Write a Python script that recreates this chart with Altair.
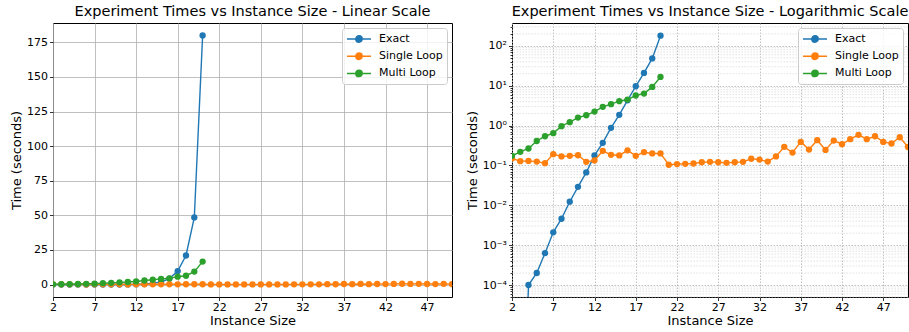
import altair as alt
import pandas as pd

# ---------------- data ----------------
series_names = ["Exact", "Single Loop", "Multi Loop"]
series_colors = ["#1f77b4", "#ff7f0e", "#2ca02c"]

exact_x = list(range(2, 21))
exact_t = [1e-10, 1e-10, 1.0e-4, 2.0e-4, 6.3e-4, 2.1e-3, 4.6e-3, 0.0123, 0.029,
           0.0667, 0.178, 0.369, 0.877, 1.86, 4.3, 9.7, 21.0, 48.5, 180.0]

single_x = list(range(2, 51))
single_t = [0.15, 0.128, 0.13, 0.125, 0.114, 0.192, 0.168, 0.174, 0.18, 0.123,
            0.133, 0.233, 0.185, 0.178, 0.24, 0.174, 0.215, 0.2, 0.2, 0.104,
            0.108, 0.11, 0.112, 0.12, 0.123, 0.12, 0.116, 0.12, 0.123, 0.147,
            0.14, 0.125, 0.168, 0.293, 0.21, 0.39, 0.25, 0.43, 0.245, 0.42,
            0.34, 0.456, 0.586, 0.456, 0.54, 0.39, 0.355, 0.51, 0.29]

multi_x = list(range(2, 21))
multi_t = [0.174, 0.22, 0.266, 0.41, 0.54, 0.645, 0.966, 1.22, 1.59, 1.82,
           2.25, 2.95, 3.44, 4.09, 4.5, 5.68, 6.37, 9.36, 16.6]

x_ticks = [2, 7, 12, 17, 22, 27, 32, 37, 42, 47]
lin_ticks = [0, 25, 50, 75, 100, 125, 150, 175]
log_ticks = [1e-4, 1e-3, 1e-2, 1e-1, 1e0, 1e1, 1e2]
log_minor = [m * 10.0 ** k for k in range(-5, 3) for m in range(2, 10)
             if 5e-5 <= m * 10.0 ** k <= 375]

rows = []
for name, xs, ts in [("Exact", exact_x, exact_t),
                     ("Single Loop", single_x, single_t),
                     ("Multi Loop", multi_x, multi_t)]:
    for xv, tv in zip(xs, ts):
        rows.append({"n": xv, "t": tv, "series": name})
df = pd.DataFrame(rows)
minor_df = pd.DataFrame({"m": log_minor})

FONT = "DejaVu Sans"
PW, PH = 399, 274
PW2 = 396

# line sample with a dot in its middle (scaled by sqrt(size)/2 = 6 px)
SYMBOL = "M-1,0L3,0M0.47,0A0.53,0.53,0,1,1,1.53,0A0.53,0.53,0,1,1,0.47,0Z"

color_scale = alt.Scale(domain=series_names, range=series_colors)
legend = alt.Legend(
    title=None, orient="top-right", offset=5,
    symbolType=SYMBOL, symbolSize=144, symbolStrokeWidth=1.5,
    symbolFillColor=alt.ExprRef(expr="scale('color', datum.value)"),
    labelFont=FONT, labelFontSize=11, labelColor="black",
    fillColor="rgba(255,255,255,0.8)", strokeColor="#cccccc",
    cornerRadius=3, padding=4, rowPadding=3.2, labelOffset=19,
)


def x_enc(grid_dash):
    return alt.X("n:Q", title="Instance Size",
                 scale=alt.Scale(domain=[2, 50], nice=False, zero=False),
                 axis=alt.Axis(values=x_ticks, grid=True, gridColor="#b0b0b0",
                               gridDash=grid_dash, gridWidth=0.8,
                               labelPadding=0.5, titlePadding=2.5))


def series_layers(y_enc, grid_dash):
    layers = []
    for s in series_names:
        layers.append(
            alt.Chart(df).transform_filter(alt.datum.series == s)
            .mark_line(clip=True, strokeWidth=1.4,
                       point=alt.OverlayMarkDef(filled=True, size=40, opacity=1, clip=True))
            .encode(x=x_enc(grid_dash), y=y_enc,
                    color=alt.Color("series:N", scale=color_scale, legend=legend))
        )
    return layers


# ---------- linear panel ----------
lin_y = alt.Y("t:Q", title="Time (seconds)",
              scale=alt.Scale(domain=[-9, 189], nice=False, zero=False),
              axis=alt.Axis(values=lin_ticks, grid=True, gridColor="#b0b0b0", gridWidth=0.8))
left = alt.layer(*series_layers(lin_y, [])).properties(
    width=PW, height=PH,
    title=alt.TitleParams("Experiment Times vs Instance Size - Linear Scale"),
)

# ---------- log panel ----------
log_scale = alt.Scale(type="log", domain=[5e-5, 375], nice=False)
label_expr = ("'10' + ['\u207b\u2074','\u207b\u00b3','\u207b\u00b2','\u207b\u00b9','\u2070','\u00b9','\u00b2']"
              "[round(log(datum.value)/LN10)+4]")
log_y = alt.Y("t:Q", title="Time (seconds)", scale=log_scale,
              axis=alt.Axis(values=log_ticks, labelExpr=label_expr, orient="left",
                            grid=True, gridColor="#b0b0b0", gridDash=[1.5, 1.5], gridWidth=0.8))
minor_layer = alt.Chart(minor_df).mark_rule(
    color="#d6d6d6", strokeWidth=0.7, strokeDash=[1.5, 1.5]
).encode(
    y=alt.Y("m:Q", scale=log_scale,
            axis=alt.Axis(values=log_minor, labels=False, title=None, orient="left",
                          tickSize=2, grid=False))
)
data_layers = alt.layer(*series_layers(log_y, [1.5, 1.5]))
right = alt.layer(minor_layer, data_layers).resolve_axis(
    y="independent"
).properties(
    width=PW2, height=PH,
    title=alt.TitleParams("Experiment Times vs Instance Size - Logarithmic Scale"),
)

chart = alt.hconcat(left, right, spacing=12).resolve_legend(color="independent").properties(
    padding={"left": 10, "top": 3, "right": 0, "bottom": 2}
).configure_view(
    stroke="black", strokeWidth=1
).configure_axis(
    labelFont=FONT, titleFont=FONT, labelFontSize=11, titleFontSize=13,
    titleFontWeight="normal", labelColor="black", titleColor="black",
    tickColor="black", tickSize=3.5, tickWidth=0.8, domain=False,
    labelPadding=2, titlePadding=3, labelFlush=False
).configure_title(
    font=FONT, fontSize=14.5, fontWeight="normal", color="black", offset=4, anchor="middle"
)

chart.save("out.html", embed_options={"renderer": "svg", "actions": False})
